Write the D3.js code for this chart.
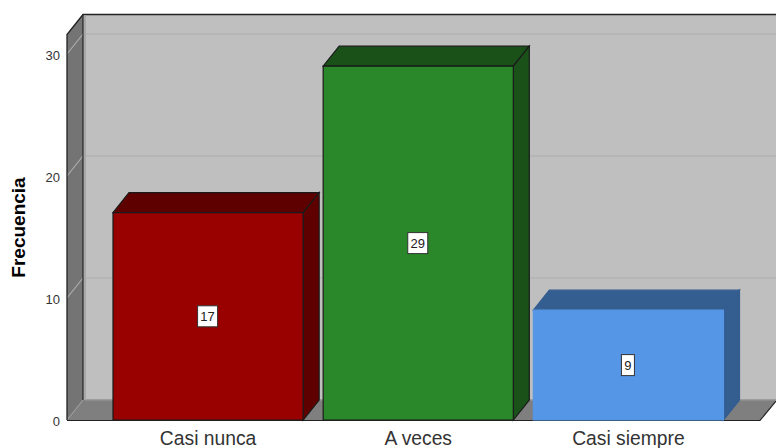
<!DOCTYPE html>
<html><head><meta charset="utf-8">
<script src="https://cdnjs.cloudflare.com/ajax/libs/d3/7.8.5/d3.min.js"></script>
<style>html,body{margin:0;background:#fff;overflow:hidden}svg{display:block}text{font-family:"Liberation Sans",Arial,sans-serif}</style>
</head><body><svg id="c" width="776" height="448"></svg>
<script>
const categories = ["Casi nunca", "A veces", "Casi siempre"];
const frequencies = [17, 29, 9];
const barFronts = ["#990000", "#2a872a", "#5596e6"];
const barTops = ["#5f0000", "#195119", "#345d90"];
const yTicks = [0, 10, 20, 30];

const W = 776, H = 448, dx = 16, dy = -20;
const svg = d3.select("#c");
const y = d3.scaleLinear().domain([0, 30]).range([420, 54]);
const x = d3.scaleBand().domain(categories).range([103, 733.5]).paddingInner(20/210).paddingOuter(10/210);
const leftX = 67, topY = y(31.6);
const line = d3.line();
const poly = (sel, pts, fill, stroke, sw) => sel.append("path").attr("d", line(pts) + "Z").attr("fill", fill).attr("stroke", stroke || "none").attr("stroke-width", sw || 1);

// back wall
poly(svg, [[leftX+dx, topY+dy],[W, topY+dy],[W, y(0)+dy],[leftX+dx, y(0)+dy]], "#bfbfbf");
// floor
poly(svg, [[leftX, y(0)],[leftX+dx, y(0)+dy],[W, y(0)+dy],[W-16, y(0)]], "#7f7f7f");
svg.append("path").attr("d", line([[leftX,y(0)+.5],[W-16,y(0)+.5],[W,y(0)+dy+1]])).attr("fill","none").attr("stroke","#222").attr("stroke-width",1.2);
svg.append("rect").attr("x",leftX+dx+2).attr("y",y(0)+dy-1).attr("width",W-leftX-dx).attr("height",1.5).attr("fill","#9c9c9c");
// left wall
poly(svg, [[leftX, topY],[leftX+dx, topY+dy],[leftX+dx, y(0)+dy],[leftX, y(0)]], "#747474");
// grid
const grid = yTicks.filter(d => d > 0);
svg.append("g").selectAll("path").data(grid).join("path")
  .attr("d", d => line([[leftX, y(d)],[leftX+dx, y(d)+dy],[W, y(d)+dy]]))
  .attr("fill","none").attr("stroke", "#adadad").attr("stroke-width",1.2);
svg.append("path").attr("d", line([[leftX,y(0)],[leftX+dx,y(0)+dy]])).attr("stroke","#a0a0a0").attr("fill","none");
// wall outlines
svg.append("path").attr("d", line([[leftX,y(0)],[leftX,topY],[leftX+dx,topY+dy],[W,topY+dy]])).attr("fill","none").attr("stroke","#222").attr("stroke-width",1.3);
svg.append("path").attr("d", line([[leftX+dx,topY+dy],[leftX+dx,y(0)+dy]])).attr("fill","none").attr("stroke","#222").attr("stroke-width",1.2);
svg.append("rect").attr("x",leftX+dx+1).attr("y",topY+dy+1).attr("width",2).attr("height",y(0)-topY-1).attr("fill","#a8a8a8");

// bars
categories.forEach((c, i) => {
  const v = frequencies[i], x0 = x(c), x1 = x0 + x.bandwidth(), yt = y(v), yb = y(0);
  const st = i === 2 ? "#4a7ab5" : "#1a1a1a";
  poly(svg, [[x0,yt],[x0+dx,yt+dy],[x1+dx,yt+dy],[x1,yt]], barTops[i], i===2?"#345d90":st, 1.2);
  poly(svg, [[x1,yt],[x1+dx,yt+dy],[x1+dx,yb+dy],[x1,yb]], barTops[i], i===2?"#345d90":st, 1.2);
  poly(svg, [[x0,yt],[x1,yt],[x1,yb],[x0,yb]], barFronts[i], i===2?"#5596e6":st, 1.2);
  const cx = (x0+x1)/2, cy = (yt+yb)/2;
  const lab = svg.append("g").attr("transform",`translate(${cx-0.5},${cy})`);
  const w = String(v).length > 1 ? 20 : 13;
  lab.append("rect").attr("x",-w/2).attr("y",-10.5).attr("width",w).attr("height",21).attr("fill","#fff").attr("stroke","#333").attr("stroke-width",1);
  lab.append("text").attr("text-anchor","middle").attr("y",4.5).attr("font-size",13).attr("fill","#222").text(v);
});

// axes
const yAxis = d3.axisLeft(y).tickValues(yTicks).tickSize(0).tickPadding(7).tickFormat(d3.format("d"));
const gy = svg.append("g").attr("transform",`translate(${leftX},1)`).call(yAxis);
gy.select(".domain").remove();
gy.selectAll("text").attr("font-size",13).attr("fill","#333").style("font-family",'"Liberation Sans",Arial,sans-serif');
const xAxis = d3.axisBottom(x).tickSize(0).tickPadding(9);
const gx = svg.append("g").attr("transform",`translate(0,${y(0)+2})`).call(xAxis);
gx.select(".domain").remove();
gx.selectAll("text").attr("font-size",19.3).attr("fill","#333").style("font-family",'"Liberation Sans",Arial,sans-serif');
svg.append("text").attr("transform","translate(25,227.5) rotate(-90)").attr("text-anchor","middle").attr("font-size",19).attr("font-weight","bold").attr("fill","#000").text("Frecuencia");
</script></body></html>
